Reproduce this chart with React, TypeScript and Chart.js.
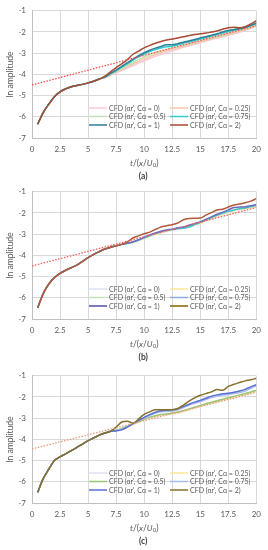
import React, { useEffect, useRef } from "react";
import { Chart, registerables } from "chart.js";

Chart.register(...registerables);

// ---------------- data ----------------
const T = [0.5, 1, 1.5, 2, 2.5, 3, 3.5, 4, 4.5, 5, 5.5, 6, 6.5, 7, 7.5, 8, 8.5, 9, 9.5, 10,
  10.5, 11, 11.5, 12, 12.5, 13, 13.5, 14, 14.5, 15, 15.5, 16, 16.5, 17, 17.5, 18, 18.5, 19, 19.5, 20];
const CA_VALUES = ["0", "0.25", "0.5", "0.75", "1", "2"];
const X_RANGE = [0, 20];
const Y_RANGE = [-7, -1];
const FIT_X = [0, 20];

// (a)
const A_CA0 = [-6.35, -5.8, -5.4, -5.05, -4.82, -4.68, -4.58, -4.52, -4.47, -4.4, -4.32, -4.22,
  -4.16, -4.04, -3.93, -3.81, -3.7, -3.58, -3.47, -3.36, -3.25, -3.15, -3.06, -2.97, -2.89, -2.8, -2.72, -2.65,
  -2.58, -2.5, -2.43, -2.36, -2.29, -2.22, -2.15, -2.08, -2.01, -1.93, -1.83, -1.73];
const A_CA025 = [-6.35, -5.8, -5.4, -5.05, -4.82, -4.68, -4.58, -4.52, -4.47, -4.4, -4.32, -4.22,
  -4.15, -4.02, -3.9, -3.77, -3.64, -3.51, -3.39, -3.27, -3.16, -3.06, -2.97, -2.89, -2.82, -2.74, -2.67, -2.6,
  -2.53, -2.46, -2.39, -2.32, -2.25, -2.18, -2.11, -2.04, -1.97, -1.9, -1.8, -1.7];
const A_CA05 = [-6.35, -5.8, -5.4, -5.05, -4.82, -4.68, -4.58, -4.52, -4.47, -4.4, -4.32, -4.22,
  -4.14, -4.0, -3.86, -3.72, -3.58, -3.44, -3.3, -3.18, -3.07, -2.97, -2.9, -2.83, -2.76, -2.69, -2.62, -2.55,
  -2.48, -2.41, -2.34, -2.27, -2.2, -2.13, -2.06, -1.99, -1.92, -1.85, -1.76, -1.66];
const A_CA075 = [-6.35, -5.8, -5.4, -5.05, -4.82, -4.68, -4.58, -4.52, -4.47, -4.4, -4.32, -4.22,
  -4.13, -3.97, -3.83, -3.66, -3.5, -3.33, -3.17, -3.03, -2.92, -2.83, -2.75, -2.7, -2.67, -2.6, -2.53, -2.47,
  -2.4, -2.33, -2.26, -2.19, -2.12, -2.05, -1.98, -1.92, -1.86, -1.8, -1.7, -1.6];
const A_CA1 = [-6.35, -5.8, -5.4, -5.05, -4.82, -4.68, -4.58, -4.52, -4.47, -4.4, -4.32, -4.22,
  -4.12, -3.95, -3.8, -3.62, -3.45, -3.28, -3.12, -2.98, -2.86, -2.76, -2.68, -2.6, -2.6, -2.55, -2.48, -2.42,
  -2.35, -2.28, -2.22, -2.15, -2.08, -2.0, -1.93, -1.88, -1.83, -1.78, -1.68, -1.58];
const A_CA2 = [-6.35, -5.8, -5.4, -5.05, -4.82, -4.68, -4.58, -4.52, -4.47, -4.4, -4.32, -4.22,
  -4.08, -3.88, -3.68, -3.5, -3.3, -3.05, -2.9, -2.75, -2.63, -2.53, -2.45, -2.38, -2.33, -2.28, -2.22, -2.17,
  -2.12, -2.08, -2.05, -2.0, -1.95, -1.87, -1.8, -1.78, -1.8, -1.75, -1.62, -1.47];
const A_FIT = [-4.5, -1.7];

// (b)
const B_CA0 = [-6.48, -5.8, -5.35, -5.05, -4.85, -4.7, -4.58, -4.46, -4.28, -4.1, -3.95, -3.82, -3.7, -3.62, -3.55, -3.48,
  -3.45, -3.4, -3.31, -3.21, -3.1, -3.01, -2.93, -2.86, -2.81, -2.75, -2.71, -2.65, -2.57, -2.49, -2.38, -2.27,
  -2.16, -2.06, -1.97, -1.89, -1.84, -1.8, -1.75, -1.69];
const B_CA025 = [-6.48, -5.8, -5.35, -5.05, -4.85, -4.7, -4.58, -4.46, -4.28, -4.1, -3.95, -3.82, -3.7, -3.62, -3.55, -3.48,
  -3.44, -3.39, -3.3, -3.2, -3.09, -3.0, -2.92, -2.85, -2.8, -2.74, -2.7, -2.64, -2.56, -2.48, -2.37, -2.26,
  -2.15, -2.05, -1.96, -1.88, -1.83, -1.79, -1.74, -1.68];
const B_CA05 = [-6.48, -5.8, -5.35, -5.05, -4.85, -4.7, -4.58, -4.46, -4.28, -4.1, -3.95, -3.82, -3.7, -3.62, -3.55, -3.48,
  -3.44, -3.38, -3.28, -3.18, -3.07, -2.98, -2.9, -2.83, -2.78, -2.72, -2.68, -2.62, -2.54, -2.46, -2.35, -2.24,
  -2.13, -2.03, -1.94, -1.86, -1.81, -1.77, -1.72, -1.66];
const B_CA075 = [-6.48, -5.8, -5.35, -5.05, -4.85, -4.7, -4.58, -4.46, -4.28, -4.1, -3.95, -3.82, -3.7, -3.62, -3.55, -3.48,
  -3.43, -3.37, -3.28, -3.17, -3.06, -2.96, -2.88, -2.82, -2.78, -2.74, -2.72, -2.66, -2.55, -2.44, -2.32, -2.2,
  -2.1, -2.0, -1.92, -1.86, -1.8, -1.76, -1.7, -1.62];
const B_CA1 = [-6.48, -5.8, -5.35, -5.05, -4.85, -4.7, -4.58, -4.46, -4.28, -4.1, -3.95, -3.82, -3.7, -3.62, -3.55, -3.48,
  -3.42, -3.36, -3.26, -3.14, -3.03, -2.94, -2.86, -2.8, -2.76, -2.7, -2.66, -2.58, -2.5, -2.42, -2.3, -2.18,
  -2.06, -1.96, -1.85, -1.74, -1.72, -1.7, -1.66, -1.6];
const B_CA2 = [-6.48, -5.8, -5.35, -5.05, -4.85, -4.7, -4.58, -4.46, -4.28, -4.1, -3.95, -3.82, -3.7, -3.62, -3.55, -3.48,
  -3.36, -3.18, -3.08, -2.98, -2.9, -2.78, -2.66, -2.6, -2.55, -2.47, -2.32, -2.26, -2.25, -2.24, -2.1, -1.98,
  -1.86, -1.82, -1.72, -1.62, -1.58, -1.52, -1.44, -1.32];
const B_FIT = [-4.5, -1.74];

// (c)
const C_CA0 = [-6.5, -5.85, -5.4, -5.0, -4.82, -4.68, -4.53, -4.38, -4.22, -4.06, -3.93, -3.8, -3.7, -3.62,
  -3.57, -3.5, -3.41, -3.3, -3.18, -3.07, -2.98, -2.91, -2.86, -2.83, -2.8, -2.75, -2.68, -2.6,
  -2.52, -2.44, -2.37, -2.3, -2.23, -2.16, -2.09, -2.02, -1.95, -1.88, -1.81, -1.74];
const C_CA025 = [-6.5, -5.85, -5.4, -5.0, -4.82, -4.68, -4.53, -4.38, -4.22, -4.06, -3.93, -3.8, -3.7, -3.62,
  -3.57, -3.5, -3.4, -3.29, -3.17, -3.06, -2.97, -2.9, -2.85, -2.82, -2.79, -2.74, -2.67, -2.59,
  -2.51, -2.43, -2.36, -2.29, -2.22, -2.15, -2.08, -2.01, -1.94, -1.87, -1.8, -1.72];
const C_CA05 = [-6.5, -5.85, -5.4, -5.0, -4.82, -4.68, -4.53, -4.38, -4.22, -4.06, -3.93, -3.8, -3.7, -3.62,
  -3.56, -3.48, -3.38, -3.27, -3.15, -3.04, -2.95, -2.88, -2.83, -2.8, -2.76, -2.71, -2.64, -2.56,
  -2.48, -2.4, -2.32, -2.25, -2.18, -2.11, -2.04, -1.97, -1.9, -1.83, -1.76, -1.68];
const C_CA075 = [-6.5, -5.85, -5.4, -5.0, -4.82, -4.68, -4.53, -4.38, -4.22, -4.06, -3.93, -3.8, -3.7, -3.62,
  -3.58, -3.52, -3.4, -3.27, -3.12, -2.99, -2.87, -2.76, -2.7, -2.68, -2.66, -2.6, -2.5, -2.39,
  -2.3, -2.22, -2.12, -2.02, -1.96, -1.91, -1.88, -1.84, -1.79, -1.72, -1.6, -1.47];
const C_CA1 = [-6.5, -5.85, -5.4, -5.0, -4.82, -4.68, -4.53, -4.38, -4.22, -4.06, -3.93, -3.8, -3.7, -3.62,
  -3.6, -3.55, -3.42, -3.26, -3.1, -2.96, -2.83, -2.72, -2.65, -2.62, -2.6, -2.55, -2.45, -2.34,
  -2.24, -2.16, -2.06, -1.96, -1.9, -1.85, -1.82, -1.78, -1.72, -1.64, -1.52, -1.42];
const C_CA2 = [-6.5, -5.85, -5.4, -5.0, -4.82, -4.68, -4.53, -4.38, -4.22, -4.06, -3.93, -3.8, -3.7, -3.62,
  -3.42, -3.18, -3.14, -3.24, -3.04, -2.82, -2.7, -2.6, -2.6, -2.6, -2.6, -2.54, -2.38, -2.2,
  -2.04, -1.92, -1.84, -1.76, -1.65, -1.68, -1.5, -1.4, -1.32, -1.24, -1.19, -1.12];
const C_FIT = [-4.45, -1.78];

// ---------------- styles ----------------
const FONT = "Lato, 'Open Sans', 'DejaVu Sans', sans-serif";
const TEXT = "#595959";
const GRID = "#d9d9d9";

type Spec = {
  top: number;
  series: number[][];
  lineColors: string[];
  legendColors: string[];
  fit: number[];
  fitColor: string;
  caption: string;
};

const SPECS: Spec[] = [
  {
    top: 0,
    series: [A_CA0, A_CA025, A_CA05, A_CA075, A_CA1, A_CA2],
    lineColors: ["#F9C8D4", "#F8C6A8", "#C5E0B4", "#33CCD0", "#2F7F96", "#A84A34"],
    legendColors: ["#F9C8D4", "#F8C6A8", "#C5E0B4", "#33CCD0", "#2F7F96", "#A84A34"],
    fit: A_FIT,
    fitColor: "#FF4B4B",
    caption: "(a)",
  },
  {
    top: 181,
    series: [B_CA0, B_CA025, B_CA05, B_CA075, B_CA1, B_CA2],
    lineColors: ["#DAE3F3", "#FFE699", "#C5E0B4", "#4CC4C6", "#6B6BC0", "#B0583C"],
    legendColors: ["#DAE3F3", "#FFE699", "#C5E0B4", "#8FAADC", "#4F4F9F", "#7F6000"],
    fit: B_FIT,
    fitColor: "#FF5A5A",
    caption: "(b)",
  },
  {
    top: 365,
    series: [C_CA0, C_CA025, C_CA05, C_CA075, C_CA1, C_CA2],
    lineColors: ["#E4DDF0", "#FFE699", "#9BC57A", "#A8BCEC", "#5A6FD0", "#86702A"],
    legendColors: ["#E4DDF0", "#FFE699", "#9BC57A", "#A8BCEC", "#5A6FD0", "#86702A"],
    fit: C_FIT,
    fitColor: "#E39A78",
    caption: "(c)",
  },
];

const decorPlugin = {
  id: "decor",
  afterDraw(chart: any) {
    const o = chart.options.plugins.decor;
    const { ctx } = chart;
    const { left, right, top, bottom } = chart.chartArea;
    ctx.save();

    // legend inside plot
    ctx.font = `7px ${FONT}`;
    ctx.textBaseline = "middle";
    ctx.textAlign = "left";
    const rows = [bottom - 30, bottom - 21.5, bottom - 13];
    const cols = [
      { x0: 89, x1: 107, tx: 109 },
      { x0: 170, x1: 188, tx: 190 },
    ];
    CA_VALUES.forEach((ca, i) => {
      const r = Math.floor(i / 2);
      const c = cols[i % 2];
      const y = rows[r];
      ctx.strokeStyle = o.legendColors[i];
      ctx.lineWidth = 1.5;
      ctx.beginPath();
      ctx.moveTo(c.x0, y);
      ctx.lineTo(c.x1, y);
      ctx.stroke();
      ctx.fillStyle = TEXT;
      ctx.fillText(`CFD (\u03b1r', C\u03b1 = ${ca})`, c.tx, y + 0.5);
    });

    // y title
    ctx.save();
    ctx.font = `8.5px ${FONT}`;
    ctx.fillStyle = TEXT;
    ctx.textAlign = "center";
    ctx.textBaseline = "middle";
    ctx.translate(10, (top + bottom) / 2);
    ctx.rotate(-Math.PI / 2);
    ctx.fillText("ln amplitude", 0, 0);
    ctx.restore();

    // x title: t/(x/U0)
    const parts = [
      { t: "t", it: true, sub: false },
      { t: "/(", it: false, sub: false },
      { t: "x", it: true, sub: false },
      { t: "/", it: false, sub: false },
      { t: "U", it: true, sub: false },
      { t: "0", it: false, sub: true },
      { t: ")", it: false, sub: false },
    ];
    const fontFor = (p: any) => `${p.it ? "italic " : ""}${p.sub ? 6 : 8.5}px ${FONT}`;
    let total = 0;
    parts.forEach((p) => {
      ctx.font = fontFor(p);
      total += ctx.measureText(p.t).width;
    });
    const cx = (left + right) / 2;
    let x = cx - total / 2;
    const ty = bottom + 25;
    ctx.textAlign = "left";
    ctx.textBaseline = "middle";
    ctx.fillStyle = TEXT;
    parts.forEach((p) => {
      ctx.font = fontFor(p);
      ctx.fillText(p.t, x, p.sub ? ty + 2.5 : ty);
      x += ctx.measureText(p.t).width;
    });

    // caption
    ctx.font = `bold 8.5px ${FONT}`;
    ctx.textAlign = "center";
    ctx.fillStyle = "#404040";
    ctx.fillText(o.caption, cx - 1, bottom + 38.5);

    ctx.restore();
  },
};

function Panel({ spec }: { spec: Spec }) {
  const ref = useRef<HTMLCanvasElement | null>(null);
  useEffect(() => {
    if (!ref.current) return;
    const orders = [6, 5, 4, 3, 2, 1];
    const datasets: any[] = CA_VALUES.map((ca, i) => ({
      label: `CFD (\u03b1r', C\u03b1 = ${ca})`,
      data: T.map((t, j) => ({ x: t, y: spec.series[i][j] })),
      borderColor: spec.lineColors[i],
      backgroundColor: spec.lineColors[i],
      borderWidth: 1.5,
      pointRadius: 0,
      cubicInterpolationMode: "monotone",
      fill: false,
      order: orders[i],
    }));
    datasets.push({
      label: "fit",
      data: FIT_X.map((x, j) => ({ x, y: spec.fit[j] })),
      borderColor: spec.fitColor,
      borderWidth: 1.3,
      borderDash: [1.5, 1.5],
      pointRadius: 0,
      fill: false,
      order: 0,
    });
    const tickFont = { family: FONT, size: 8 };
    const chart = new Chart(ref.current, {
      type: "line",
      data: { datasets },
      plugins: [decorPlugin],
      options: {
        responsive: false,
        animation: false,
        events: [],
        layout: { padding: { left: 0, right: 11, top: 10, bottom: 29 } },
        plugins: {
          legend: { display: false },
          tooltip: { enabled: false },
          title: { display: false },
          decor: { legendColors: spec.legendColors, caption: spec.caption },
        } as any,
        scales: {
          x: {
            type: "linear",
            min: X_RANGE[0],
            max: X_RANGE[1],
            ticks: { stepSize: 2.5, color: TEXT, font: tickFont, padding: 7, maxRotation: 0, autoSkip: false },
            grid: { color: GRID, drawTicks: false, lineWidth: 1 },
            border: { color: "#bfbfbf" },
            afterFit: (s: any) => {
              s.height = 14;
            },
          },
          y: {
            min: Y_RANGE[0],
            max: Y_RANGE[1],
            ticks: { stepSize: 1, color: TEXT, font: tickFont, padding: 6 },
            grid: { color: GRID, drawTicks: false, lineWidth: 1 },
            border: { color: "#bfbfbf" },
            afterFit: (s: any) => {
              s.width = 32;
            },
          },
        },
      } as any,
    });
    return () => chart.destroy();
  }, [spec]);
  return (
    <canvas
      ref={ref}
      width={268}
      height={181}
      style={{ position: "absolute", left: 0, top: spec.top, width: 268, height: 181 }}
    />
  );
}

export default function App() {
  return (
    <div style={{ position: "absolute", left: 0, top: 0, width: 268, height: 550, background: "#fff" }}>
      {SPECS.map((s) => (
        <Panel key={s.caption} spec={s} />
      ))}
    </div>
  );
}
